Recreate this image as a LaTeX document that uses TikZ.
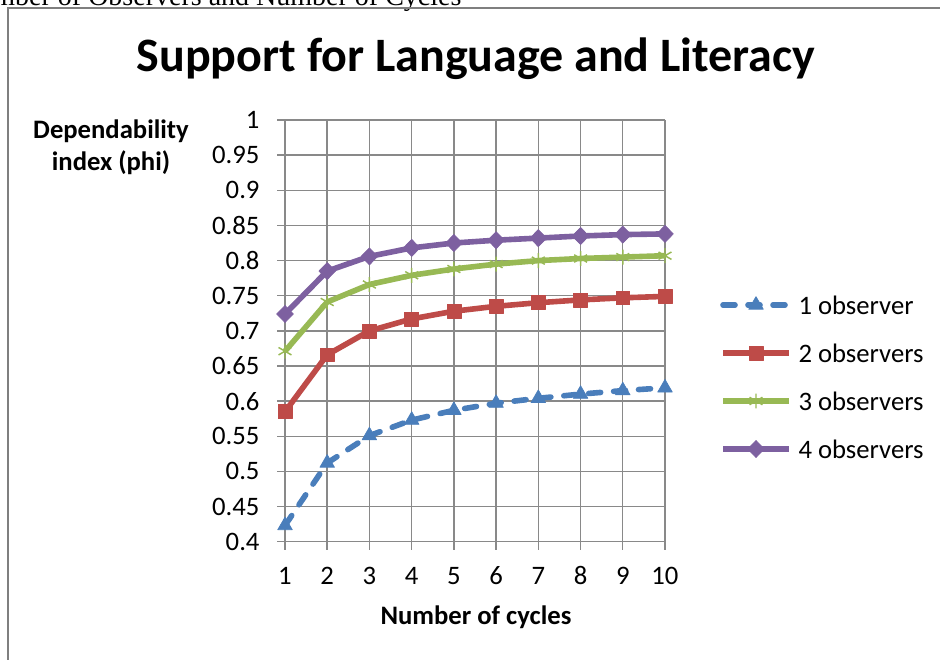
\documentclass[tikz,border=0pt]{standalone}
\usepackage{fontspec}
\setmainfont{Carlito}
\newfontfamily\captionfont{Liberation Serif}
\usetikzlibrary{plotmarks}

\definecolor{obsblue}{HTML}{4A7EBB}
\definecolor{obsred}{HTML}{BE4B48}
\definecolor{obsgreen}{HTML}{98B954}
\definecolor{obspurple}{HTML}{7D60A0}
\definecolor{gridgray}{HTML}{898989}
\definecolor{framegray}{HTML}{7F7F7F}

\tikzset{every picture/.style={line width=0.75pt}}
\tikzset{
  gridline/.style={draw=gridgray, line width=1.1pt},
  series/.style={line width=4.2pt, line join=round},
  oneobs/.style={series, draw=obsblue, line cap=round, dash pattern=on 9pt off 9.75pt,
    mark=triangle*, mark size=6.3pt, mark options={solid, rotate=180, fill=obsblue, draw=obsblue, line width=0.5pt}},
  twoobs/.style={series, draw=obsred,
    mark=square*, mark size=5.2pt, mark options={fill=obsred, draw=obsred, line width=0.5pt}},
  threeobs/.style={series, draw=obsgreen,
    mark=asterisk, mark size=5.6pt, mark options={draw=obsgreen, line width=1.1pt}},
  fourobs/.style={series, draw=obspurple,
    mark=diamond*, mark size=6.4pt, mark options={xscale=1.3, fill=obspurple, draw=obspurple, line width=0.5pt}},
  ticklabel/.style={inner sep=0.75pt, font=\fontsize{20}{24}\selectfont},
  axistitle/.style={inner sep=0.75pt, font=\bfseries\fontsize{20}{24}\selectfont, align=center}
}

\begin{document}
\begin{tikzpicture}[x=0.75pt,y=0.75pt,yscale=-1,xscale=1]
\useasboundingbox (0,0) rectangle (940,660);

% Caption (cut by the page edge)
\draw (462,6) node [anchor=base east][inner sep=0pt]  [font=\captionfont\fontsize{21}{25}\selectfont]  (caption) {Number of Observers and Number of Cycles};
%Chart frame
\draw [draw=framegray, line width=1pt]    (8,680) -- (8,8) -- (960,8) ;

%Grid lines
\foreach \k in {0,...,9}
  \draw [gridline]    (285+\k*42.22,120) -- (285+\k*42.22,549.7) ;
\foreach \k in {0,...,12}
  \draw [gridline]    (277,541.7-\k*35.14) -- (665,541.7-\k*35.14) ;

% Tick labels
\foreach \lab [count=\k from 0] in {0.4,0.45,0.5,0.55,0.6,0.65,0.7,0.75,0.8,0.85,0.9,0.95,1}
  \draw (261,541.7-\k*35.14) node [anchor=east][ticklabel]  (ylab\k) {\lab};
\foreach \k in {1,...,10}
  \draw (285+\k*42.22-42.22,584) node [anchor=base][ticklabel]  (xlab\k) {\k};

%Series: 1 observer
\draw [oneobs] plot coordinates {(285,525.5) (327.2,463.0) (369.4,435.6) (411.7,420.1) (453.9,410.3) (496.1,403.2) (538.3,398.3) (580.6,394.1) (622.8,390.6) (665,387.8)};
%Series: 2 observers
\draw [twoobs] plot coordinates {(285,411.7) (327.2,354.8) (369.4,330.9) (411.7,318.9) (453.9,311.2) (496.1,306.3) (538.3,302.7) (580.6,299.9) (622.8,297.8) (665,296.4)};
%Series: 3 observers
\draw [threeobs] plot coordinates {(285,351.2) (327.2,302.0) (369.4,284.5) (411.7,275.3) (453.9,269.0) (496.1,264.1) (538.3,260.6) (580.6,258.5) (622.8,257.1) (665,255.7)};
%Series: 4 observers
\draw [fourobs] plot coordinates {(285,314.0) (327.2,271.1) (369.4,256.4) (411.7,247.9) (453.9,243.0) (496.1,240.2) (538.3,238.1) (580.6,236.0) (622.8,234.6) (665,233.9)};

%Legend keys
\draw [oneobs, mark indices={2}] plot coordinates {(723,305) (756,305) (789,305)};
\draw [twoobs, mark indices={2}] plot coordinates {(723,353) (756,353) (789,353)};
\draw [threeobs, mark indices={2}] plot coordinates {(723,401) (756,401) (789,401)};
\draw [fourobs, mark indices={2}] plot coordinates {(723,449) (756,449) (789,449)};

% Text Node
\draw (476,71.7) node [anchor=base][inner sep=0.75pt]  [font=\bfseries\fontsize{36}{43}\selectfont]  (title) {Support for Language and Literacy};
% Text Node
\draw (111,147) node [anchor=center][axistitle]  (ytitle) {Dependability\\index (phi)};
% Text Node
\draw (476,624) node [anchor=base][axistitle]  (xtitle) {Number of cycles};
% Text Node
\draw (797,305) node [anchor=west][ticklabel]  (leg1) {1 observer};
% Text Node
\draw (797,353) node [anchor=west][ticklabel]  (leg2) {2 observers};
% Text Node
\draw (797,401) node [anchor=west][ticklabel]  (leg3) {3 observers};
% Text Node
\draw (797,449) node [anchor=west][ticklabel]  (leg4) {4 observers};

\end{tikzpicture}
\end{document}
